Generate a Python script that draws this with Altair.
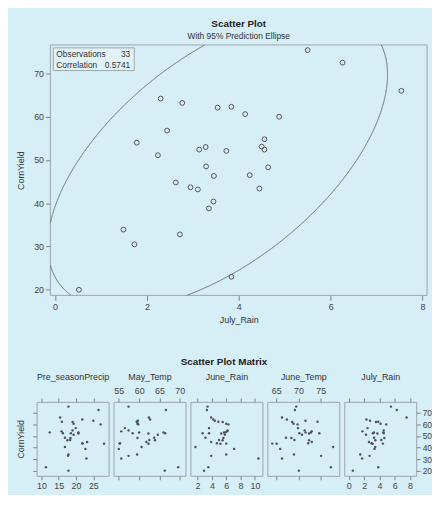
import altair as alt
import numpy as np
import pandas as pd

# ---------------- data ----------------
corn_yield = [75.4, 72.5, 66.0, 64.2, 63.2, 62.3, 62.1, 60.6, 60.0, 56.8, 54.8,
              54.0, 53.1, 53.0, 52.4, 52.4, 52.1, 51.1, 48.5, 48.3, 46.5, 46.3,
              44.8, 43.7, 43.4, 43.2, 40.4, 38.8, 33.9, 32.8, 30.5, 23.0, 20.0]
july_rain = [5.50, 6.26, 7.54, 2.30, 2.77, 3.84, 3.54, 4.14, 4.88, 2.44, 4.56,
             1.78, 4.50, 3.28, 3.14, 4.56, 3.73, 2.24, 3.29, 4.64, 4.24, 3.46,
             2.63, 2.95, 4.45, 3.11, 3.45, 3.35, 1.49, 2.72, 1.73, 3.84, 0.52]
pre_precip = [17.8, 26.5, 15.4, 21.8, 25.0, 15.9, 19.0, 19.3, 27.1, 19.9, 19.0,
              15.8, 12.4, 20.7, 16.2, 18.5, 20.7, 19.3, 16.8, 18.4, 18.3, 17.5,
              23.2, 21.8, 21.9, 28.1, 16.8, 22.7, 17.8, 17.7, 23.0, 11.3, 17.8]
may_temp = [57.4, 66.6, 62.4, 62.7, 59.7, 59.4, 59.5, 59.6, 59.8, 56.5, 57.4,
            55.6, 66.0, 60.0, 58.4, 66.4, 62.3, 64.6, 63.7, 59.6, 62.5, 63.9,
            61.8, 55.3, 55.2, 62.3, 60.6, 55.0, 59.5, 57.4, 55.6, 69.6, 66.3]
june_rain = [3.4, 3.3, 3.9, 4.2, 4.4, 4.9, 5.5, 6.0, 6.3, 3.6, 6.2,
             6.1, 5.9, 5.7, 2.7, 3.6, 5.3, 5.8, 3.1, 5.6, 5.0, 5.5,
             3.9, 4.7, 6.0, 5.2, 1.7, 7.1, 6.0, 3.9, 10.5, 3.5, 2.9]
june_temp = [69.5, 69.2, 66.3, 67.4, 71.6, 74.3, 68.6, 68.9, 69.8, 69.9, 71.4,
             73.0, 71.6, 72.8, 70.2, 74.7, 72.4, 70.8, 67.2, 68.4, 69.1, 72.4,
             73.0, 72.2, 64.1, 65.1, 77.8, 65.9, 69.0, 75.1, 66.3, 77.3, 70.1]

variables = ["Pre_seasonPrecip", "May_Temp", "June_Rain", "June_Temp", "July_Rain"]
x_domains = [[8.6, 29.4], [53.7, 71.4], [1.0, 11.05], [63.0, 79.2], [-0.6, 8.8]]
x_ticks = [[10, 15, 20, 25], [55, 60, 65, 70], [2, 4, 6, 8, 10], [65, 70, 75], [0, 2, 4, 6, 8]]
labels_on_top = [False, True, False, True, False]
y_ticks = [20, 30, 40, 50, 60, 70]
top_x_ticks = [0, 2, 4, 6, 8]
stat_names = ["Observations", "Correlation"]
stat_values = ["33", "0.5741"]
correlation = 0.5741
top_x_domain = [-0.1, 8.1]
top_y_domain = [18.7, 76.6]

df = pd.DataFrame({
    "CornYield": corn_yield,
    "Pre_seasonPrecip": pre_precip,
    "May_Temp": may_temp,
    "June_Rain": june_rain,
    "June_Temp": june_temp,
    "July_Rain": july_rain,
})

# ---------------- 95% prediction ellipse (derived from the data) ----------------
xv = np.array(july_rain)
yv = np.array(corn_yield)
n = len(xv)
sdx, sdy = xv.std(ddof=1), yv.std(ddof=1)
cov = np.array([[sdx ** 2, correlation * sdx * sdy],
                [correlation * sdx * sdy, sdy ** 2]])
f_q = (n - 2) / 2.0 * (0.05 ** (-2.0 / (n - 2)) - 1.0)   # F(0.95; 2, n-2)
radius = np.sqrt(2.0 * (n + 1) * (n - 1) / (n * (n - 2)) * f_q)
chol = np.linalg.cholesky(cov)
t = np.linspace(0, 2 * np.pi, 4001)
circ = np.vstack([np.cos(t), np.sin(t)])
ep = np.array([[xv.mean()], [yv.mean()]]) + radius * chol @ circ
inside = ((ep[0] >= top_x_domain[0]) & (ep[0] <= top_x_domain[1]) &
          (ep[1] >= top_y_domain[0]) & (ep[1] <= top_y_domain[1]))
seg = np.cumsum(np.concatenate([[1], (inside[1:] & ~inside[:-1]).astype(int)]))
ell = pd.DataFrame({"July_Rain": ep[0], "CornYield": ep[1],
                    "i": np.arange(len(t)), "seg": seg})[inside]

FONT = "Liberation Sans"
LBL = "#444444"
TTL = "#333333"
TICK = "#7a8488"
FRAME = "#9ba6ab"

SHIFT = 14
TOP_W = 382
TOP_H = 254
PANEL_W = 73
PANEL_H = 75

# ---------------- top scatter plot ----------------
xs = alt.Scale(domain=top_x_domain, range=[SHIFT, SHIFT + TOP_W], nice=False, zero=False)
ys = alt.Scale(domain=top_y_domain, nice=False, zero=False)
x_axis = alt.Axis(values=top_x_ticks, title="July_Rain", tickSize=5, labelPadding=2,
                  titlePadding=5, labelFontSize=9, titleFontSize=9,
                  titleX=SHIFT + TOP_W / 2)
y_axis = alt.Axis(values=y_ticks, title="CornYield", tickSize=5, labelPadding=2,
                  titlePadding=8, labelFontSize=9, titleFontSize=9, offset=-SHIFT)

pts = alt.Chart(df).mark_point(shape="circle", filled=False, size=24, color="#555555",
                               strokeWidth=1, opacity=1).encode(
    x=alt.X("July_Rain:Q", scale=xs, axis=x_axis),
    y=alt.Y("CornYield:Q", scale=ys, axis=y_axis),
)
ellipse = alt.Chart(ell).mark_line(clip=True, color="#666666", strokeWidth=1).encode(
    x=alt.X("July_Rain:Q", scale=xs, axis=x_axis),
    y=alt.Y("CornYield:Q", scale=ys, axis=y_axis),
    detail="seg:N",
    order=alt.Order("i:Q"),
)
one = pd.DataFrame({"a": [0]})
frame = alt.Chart(one).mark_rect(fillOpacity=0, stroke=FRAME, strokeWidth=1).encode(
    x=alt.value(SHIFT), x2=alt.value(SHIFT + TOP_W), y=alt.value(0), y2=alt.value(TOP_H))
box = alt.Chart(one).mark_rect(fill="#e2f3f8", stroke="#9aa6ab", strokeWidth=1).encode(
    x=alt.value(SHIFT + 3), x2=alt.value(SHIFT + 85), y=alt.value(3), y2=alt.value(26))

stat_layers = []
for k, (nm, vl) in enumerate(zip(stat_names, stat_values)):
    stat_layers.append(
        alt.Chart(pd.DataFrame({"t": [nm]})).mark_text(
            align="left", baseline="middle", font=FONT, fontSize=8.5, color=TTL).encode(
            x=alt.value(SHIFT + 6), y=alt.value(9 + 11 * k), text="t:N"))
    stat_layers.append(
        alt.Chart(pd.DataFrame({"t": [vl]})).mark_text(
            align="right", baseline="middle", font=FONT, fontSize=8.5, color=TTL).encode(
            x=alt.value(SHIFT + 81), y=alt.value(9 + 11 * k), text="t:N"))

top = alt.layer(frame, ellipse, pts, box, *stat_layers).properties(
    width=SHIFT + TOP_W, height=TOP_H,
    view=alt.ViewBackground(stroke="transparent"),
    title=alt.TitleParams("Scatter Plot", subtitle="With 95% Prediction Ellipse",
                          anchor="middle", frame="group", dx=SHIFT / 2, fontSize=10,
                          fontWeight="bold", font=FONT, color="#222222",
                          subtitleFont=FONT, subtitleFontSize=8.5, subtitleColor=TTL,
                          subtitlePadding=3, offset=4),
)

# ---------------- scatter plot matrix ----------------
sy = alt.Scale(domain=[15.5, 79.5], nice=False, zero=False)


def panel(i):
    var = variables[i]
    sx = alt.Scale(domain=x_domains[i], nice=False, zero=False)
    bottom_axis = alt.Axis(orient="bottom", values=x_ticks[i], labels=not labels_on_top[i],
                           title=None, tickSize=4, labelPadding=2, labelFontSize=9)
    top_axis = alt.Axis(orient="top", values=x_ticks[i], labels=labels_on_top[i],
                        title=var, titleY=-26, titleBaseline="middle", tickSize=4,
                        labelPadding=2, labelFontSize=9, titleFontSize=9)
    if i == 0:
        yenc = alt.Y("CornYield:Q", scale=sy,
                     axis=alt.Axis(orient="left", values=y_ticks, labels=False,
                                   title="CornYield", tickSize=4, titlePadding=7,
                                   titleFontSize=9))
    elif i == 4:
        yenc = alt.Y("CornYield:Q", scale=sy,
                     axis=alt.Axis(orient="right", values=y_ticks, labels=True, title=None,
                                   tickSize=4, labelPadding=2, labelFontSize=8.5))
    else:
        yenc = alt.Y("CornYield:Q", scale=sy, axis=None)
    base = alt.Chart(df)
    dots = base.mark_circle(size=6, color="#505050", opacity=1).encode(
        x=alt.X(f"{var}:Q", scale=sx, axis=bottom_axis), y=yenc)
    ghost = base.mark_circle(size=6, opacity=0).encode(
        x=alt.X(f"{var}:Q", scale=sx, axis=top_axis))
    return alt.layer(dots, ghost).resolve_axis(x="independent").properties(
        width=PANEL_W, height=PANEL_H)


matrix = alt.hconcat(*[panel(i) for i in range(5)], spacing=3).properties(
    title=alt.TitleParams("Scatter Plot Matrix", anchor="middle", fontSize=10,
                          fontWeight="bold", font=FONT, color="#222222", offset=5))

chart = alt.vconcat(top, matrix, spacing=31).properties(
    padding={"left": 8, "top": 7, "right": 0, "bottom": 0},
    background="#d6eef6",
).configure_view(
    stroke=FRAME, strokeWidth=1,
).configure_axis(
    domain=False, grid=False, tickColor=TICK, labelColor=LBL, titleColor=TTL,
    labelFont=FONT, titleFont=FONT, titleFontWeight="normal",
)

chart.save("out.html", embed_options={"renderer": "svg", "actions": False})
